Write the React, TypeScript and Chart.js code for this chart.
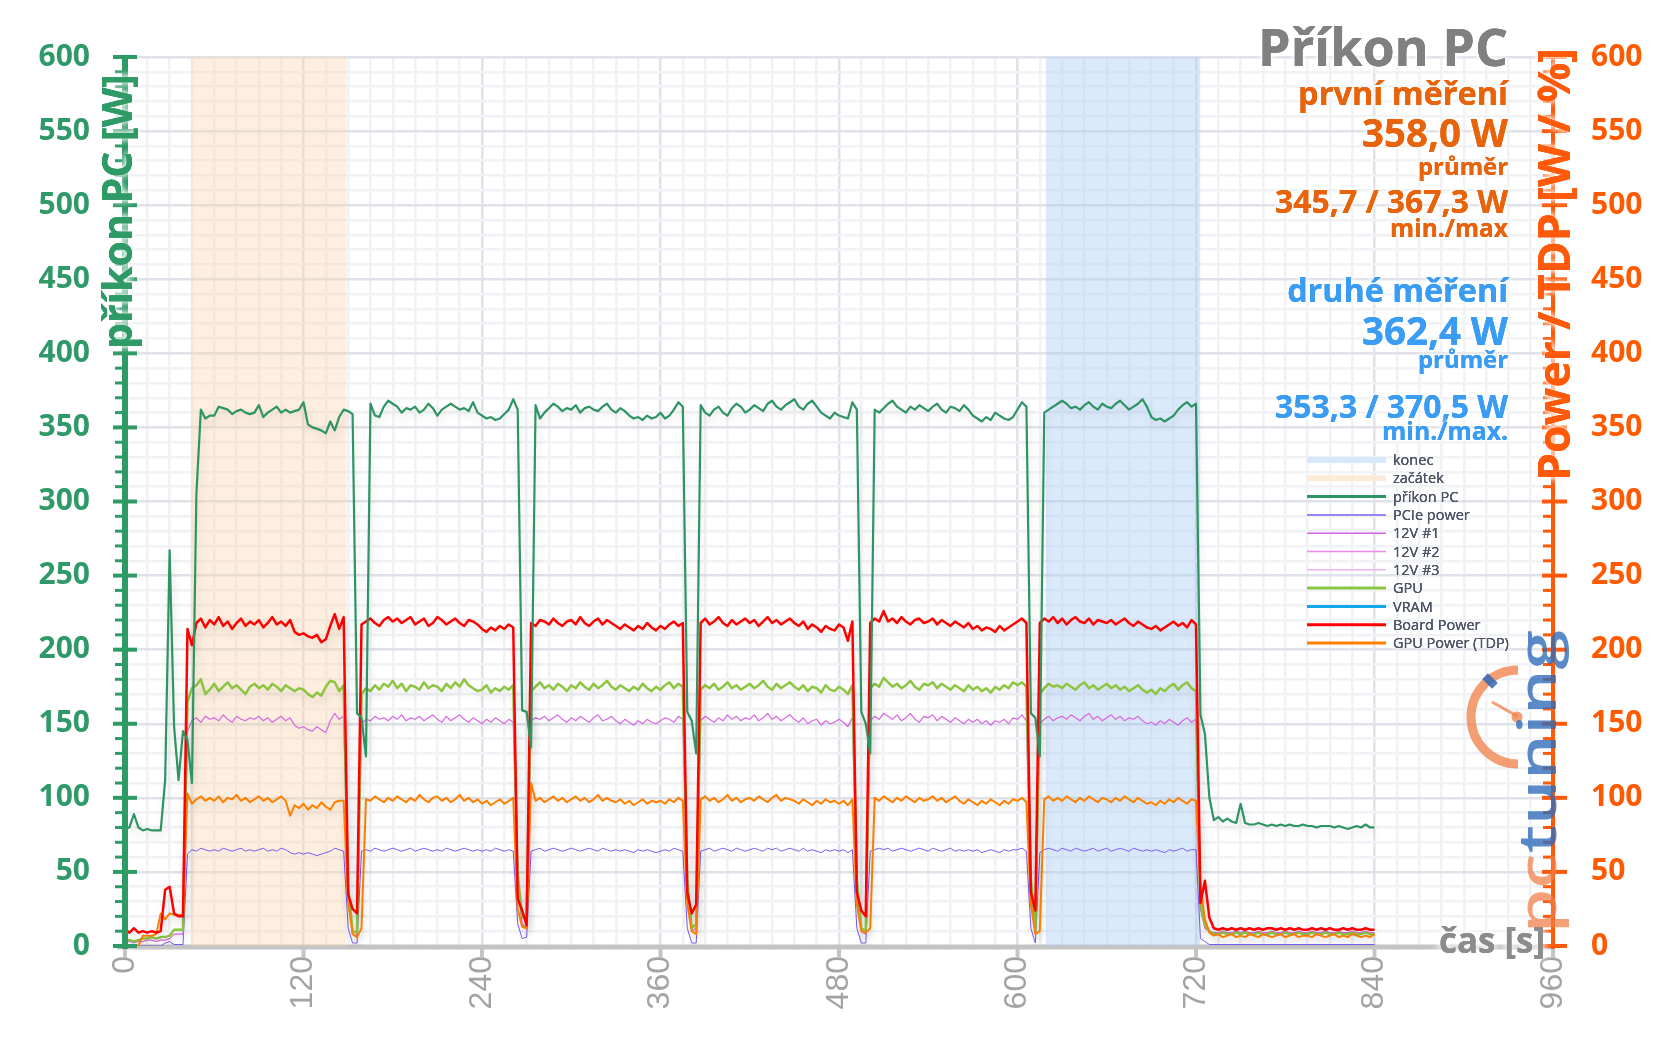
import React, { useEffect, useRef } from "react";
import { Chart, registerables } from "chart.js";

Chart.register(...registerables);

// sampling interval of the log (seconds)
const SAMPLE_STEP_S = 3;

// příkon PC [W]
const pcPower = [
  79, 80, 89, 80, 78, 79, 78, 78, 78, 112,
  267, 148, 112, 145, 139, 110, 305, 362, 356, 358,
  358, 364, 363, 362, 359, 361, 362, 360, 359, 360,
  365, 357, 360, 362, 364, 360, 362, 360, 361, 362,
  367, 352, 350, 349, 348, 346, 354, 348, 357, 362,
  361, 359, 157, 154, 128, 366, 358, 357, 364, 368,
  366, 364, 360, 363, 362, 364, 360, 362, 366, 363,
  358, 362, 364, 366, 364, 362, 363, 361, 367, 360,
  358, 356, 357, 355, 356, 359, 362, 369, 362, 159,
  158, 134, 365, 356, 360, 363, 366, 364, 361, 363,
  362, 365, 360, 363, 364, 362, 361, 364, 366, 362,
  360, 363, 361, 358, 356, 357, 355, 358, 356, 357,
  360, 356, 358, 362, 367, 364, 158, 152, 130, 365,
  360, 358, 362, 364, 360, 358, 363, 366, 364, 360,
  362, 365, 363, 361, 366, 368, 364, 362, 365, 367,
  369, 364, 362, 366, 368, 364, 360, 358, 356, 360,
  358, 357, 356, 367, 362, 158, 150, 130, 362, 360,
  363, 366, 368, 364, 362, 360, 364, 362, 365, 363,
  361, 364, 366, 362, 360, 364, 363, 361, 365, 362,
  358, 356, 354, 357, 355, 360, 358, 356, 355, 357,
  362, 367, 364, 157, 154, 128, 360, 362, 364, 366,
  368, 366, 363, 364, 362, 365, 367, 364, 362, 366,
  364, 363, 366, 368, 365, 362, 364, 366, 369, 364,
  357, 355, 356, 354, 356, 358, 362, 365, 367, 364,
  366, 156, 143, 100, 85, 87, 84, 86, 84, 83,
  96, 83, 82, 82, 83, 82, 81, 82, 81, 82,
  81, 82, 81, 81, 82, 81, 81, 80, 81, 81,
  81, 80, 81, 80, 79, 80, 81, 80, 82, 80,
  80,
];

// PCIe power [W]
const pciePower = [
  0, 0, 0, 0, 0, 0, 0, 0, 0, 2,
  3, 1, 1, 1, 62, 65, 64, 66, 65, 64,
  65, 64, 66, 65, 64, 65, 66, 64, 65, 64,
  65, 66, 64, 65, 64, 66, 65, 63, 62, 63,
  62, 63, 62, 61, 62, 63, 64, 66, 65, 64,
  12, 2, 2, 64, 65, 64, 66, 65, 64, 65,
  66, 65, 64, 65, 66, 64, 65, 66, 65, 64,
  65, 64, 66, 65, 64, 65, 66, 65, 64, 65,
  64, 65, 64, 66, 65, 64, 65, 64, 15, 5,
  6, 64, 65, 66, 64, 65, 66, 65, 64, 65,
  66, 65, 64, 65, 66, 65, 64, 66, 65, 64,
  65, 64, 65, 64, 63, 65, 64, 65, 64, 63,
  64, 65, 64, 66, 65, 64, 12, 2, 2, 64,
  65, 66, 64, 65, 66, 65, 64, 66, 65, 64,
  65, 66, 65, 64, 66, 65, 66, 64, 65, 66,
  65, 64, 66, 64, 65, 64, 63, 65, 64, 65,
  64, 65, 63, 65, 12, 2, 2, 64, 65, 66,
  65, 66, 64, 65, 66, 65, 64, 65, 66, 65,
  64, 66, 65, 64, 65, 66, 64, 65, 64, 65,
  64, 65, 63, 64, 65, 64, 63, 65, 64, 65,
  65, 66, 64, 12, 2, 63, 65, 66, 65, 64,
  66, 65, 64, 66, 65, 64, 65, 66, 64, 65,
  66, 64, 65, 66, 65, 64, 66, 65, 64, 65,
  64, 65, 64, 63, 65, 64, 65, 66, 64, 65,
  65, 5, 3, 1, 1, 1, 1, 1, 1, 1,
  1, 1, 1, 1, 1, 1, 1, 1, 1, 1,
  1, 1, 1, 1, 1, 1, 1, 1, 1, 1,
  1, 1, 1, 1, 1, 1, 1, 1, 1, 1,
  1,
];

// 12V #1 [W]
const rail12v1 = [
  3, 3, 2, 3, 3, 4, 4, 3, 4, 4,
  5, 8, 8, 8, 145, 152, 154, 151, 155, 153,
  154, 152, 156, 153, 151, 155, 153, 152, 154, 153,
  155, 152, 154, 151, 153, 155, 152, 154, 149, 147,
  148, 146, 145, 148, 146, 144, 152, 157, 153, 155,
  35, 8, 7, 150, 153, 152, 155, 153, 154, 152,
  155, 153, 156, 152, 154, 153, 155, 152, 154, 156,
  153, 151, 155, 152, 154, 156, 153, 151, 154, 152,
  150, 153, 151, 154, 152, 150, 153, 151, 40, 15,
  12, 152, 154, 153, 155, 152, 154, 156, 153, 151,
  154, 152, 155, 153, 151, 154, 156, 152, 153, 155,
  152, 150, 153, 151, 149, 152, 150, 153, 151, 150,
  152, 154, 153, 151, 155, 153, 40, 10, 12, 152,
  155, 153, 151, 154, 152, 156, 153, 155, 152, 154,
  153, 156, 152, 154, 157, 153, 155, 152, 154, 156,
  153, 151, 154, 150, 152, 153, 149, 152, 150, 151,
  153, 151, 148, 154, 40, 10, 8, 152, 155, 153,
  157, 155, 153, 156, 152, 154, 157, 153, 151, 155,
  154, 156, 152, 155, 153, 151, 154, 152, 150, 153,
  151, 153, 150, 152, 149, 152, 151, 153, 150, 154,
  153, 156, 152, 40, 8, 150, 153, 155, 152, 154,
  155, 153, 156, 154, 152, 155, 157, 153, 155, 152,
  154, 156, 153, 155, 152, 154, 153, 155, 152, 150,
  151, 149, 152, 150, 153, 151, 149, 152, 154, 151,
  153, 25, 12, 10, 9, 9, 10, 9, 9, 10,
  9, 10, 9, 9, 10, 9, 9, 10, 9, 9,
  10, 9, 9, 10, 9, 9, 10, 9, 9, 10,
  9, 9, 10, 9, 9, 10, 9, 9, 10, 9,
  9,
];

// 12V #2, 12V #3 and VRAM carry no visible trace in the chart
const rail12v2: number[] = [];
const rail12v3: number[] = [];
const vramPower: number[] = [];

// GPU core [W]
const gpuCore = [
  4, 4, 3, 4, 5, 5, 6, 5, 6, 6,
  7, 11, 11, 11, 165, 174, 176, 180, 170, 173,
  177, 172, 175, 178, 174, 176, 173, 170, 175, 177,
  174, 176, 173, 177, 175, 172, 176, 174, 172, 174,
  173, 170, 168, 171, 169, 175, 179, 178, 172, 176,
  40, 10, 9, 170, 174, 172, 176, 173, 177, 175,
  179, 174, 177, 172, 176, 175, 173, 178, 174, 176,
  175, 172, 177, 174, 178, 175, 180, 176, 174, 172,
  173, 176, 171, 174, 172, 175, 173, 176, 48, 20,
  18, 172, 175, 178, 174, 176, 173, 177, 175, 172,
  176, 174, 178, 175, 173, 177, 174, 176, 179, 175,
  173, 176, 174, 172, 175, 173, 177, 174, 172, 175,
  173, 176, 178, 174, 177, 175, 45, 12, 15, 173,
  176, 174, 177, 173, 175, 178, 174, 176, 173, 175,
  177, 174, 176, 179, 175, 173, 177, 174, 176, 178,
  175, 173, 176, 172, 175, 174, 171, 176, 173, 172,
  175, 173, 170, 176, 45, 12, 10, 174, 177, 175,
  181, 178, 175, 177, 174, 176, 179, 175, 173, 177,
  176, 178, 174, 177, 175, 173, 176, 174, 172, 176,
  173, 175, 172, 174, 171, 175, 173, 176, 174, 178,
  176, 178, 175, 45, 10, 170, 174, 177, 175, 176,
  174, 177, 175, 173, 176, 178, 174, 176, 173, 175,
  177, 174, 176, 173, 175, 172, 174, 176, 173, 171,
  173, 170, 174, 172, 175, 177, 173, 176, 178, 174,
  172, 28, 14, 10, 8, 8, 9, 8, 8, 9,
  8, 9, 8, 8, 9, 8, 8, 9, 8, 8,
  9, 8, 8, 9, 8, 8, 9, 8, 8, 9,
  8, 8, 9, 8, 8, 9, 8, 8, 9, 8,
  8,
];

// Board Power [W]
const boardPower = [
  11, 9, 12, 9, 10, 9, 10, 9, 10, 38,
  40, 22, 20, 20, 214, 203, 218, 221, 215, 220,
  217, 222, 216, 219, 214, 218, 221, 216, 219, 217,
  220, 215, 218, 222, 217, 219, 216, 220, 212, 210,
  211, 209, 208, 210, 205, 207, 216, 224, 214, 222,
  35, 25, 22, 217, 219, 221, 218, 216, 220, 222,
  219, 221, 218, 220, 222, 217, 219, 221, 216, 218,
  222, 220, 217, 219, 221, 218, 216, 220, 219, 217,
  214, 212, 215, 213, 216, 214, 217, 215, 32, 24,
  14, 218, 216, 220, 219, 217, 221, 218, 216, 219,
  220, 217, 222, 218, 216, 219, 221, 217, 220, 218,
  216, 214, 217, 215, 213, 216, 214, 218, 215, 213,
  216, 214, 217, 219, 216, 218, 36, 22, 28, 218,
  221, 217, 219, 222, 218, 216, 220, 217, 219, 221,
  218, 220, 216, 219, 222, 218, 220, 217, 219, 221,
  218, 216, 219, 214, 217, 215, 212, 216, 214, 213,
  217, 215, 206, 219, 36, 24, 20, 218, 221, 219,
  226, 219, 221, 218, 222, 219, 217, 220, 221, 218,
  219, 221, 217, 220, 218, 216, 219, 217, 215, 218,
  214, 216, 213, 215, 214, 212, 216, 213, 215, 217,
  219, 221, 218, 36, 24, 218, 221, 219, 222, 218,
  221, 217, 220, 222, 219, 218, 221, 217, 220, 219,
  218, 220, 217, 219, 221, 218, 216, 219, 217, 215,
  214, 216, 213, 215, 217, 219, 216, 218, 215, 220,
  217, 29, 44, 19, 12, 11, 12, 11, 12, 11,
  12, 11, 12, 11, 12, 11, 12, 12, 11, 12,
  11, 12, 11, 12, 11, 11, 12, 11, 12, 11,
  12, 11, 11, 12, 11, 12, 11, 11, 12, 11,
  11,
];

// GPU Power (TDP) [W]
const tdpPower = [
  0, 0, 0, 0, 7, 7, 7, 8, 22, 18,
  22, 21, 21, 21, 103, 96, 99, 101, 98, 100,
  98, 101, 97, 100, 99, 102, 98, 100, 97, 99,
  101, 98, 100, 97, 99, 101, 98, 88, 95, 93,
  96, 92, 95, 93, 97, 94, 92, 97, 98, 98,
  30, 8, 6, 12, 99, 98, 101, 99, 97, 100,
  98, 101, 99, 97, 100, 98, 102, 99, 97, 100,
  101, 98, 100, 97, 99, 102, 98, 100, 97, 99,
  96, 98, 95, 97, 99, 96, 98, 100, 25, 13,
  12, 110, 98, 100, 97, 99, 101, 98, 100, 97,
  99, 101, 98, 100, 97, 99, 102, 98, 100, 98,
  97, 99, 96, 98, 95, 97, 99, 96, 98, 97,
  98, 96, 99, 97, 100, 98, 28, 10, 8, 99,
  101, 98, 100, 97, 99, 102, 98, 100, 97, 99,
  100, 98, 101, 99, 97, 100, 102, 98, 100, 99,
  98, 96, 99, 97, 95, 98, 96, 99, 97, 98,
  96, 98, 95, 99, 28, 10, 9, 12, 100, 98,
  101, 99, 97, 100, 98, 101, 99, 97, 100, 98,
  99, 101, 98, 100, 97, 99, 101, 98, 96, 99,
  97, 95, 98, 96, 99, 97, 95, 98, 96, 99,
  98, 100, 97, 28, 8, 10, 99, 101, 98, 100,
  98, 101, 99, 97, 100, 98, 101, 99, 97, 100,
  99, 97, 100, 98, 101, 99, 97, 100, 98, 96,
  97, 95, 98, 96, 99, 97, 100, 98, 96, 99,
  98, 40, 18, 9, 7, 8, 6, 7, 8, 6,
  7, 6, 8, 7, 6, 8, 7, 6, 7, 8,
  6, 7, 8, 6, 7, 7, 6, 8, 7, 6,
  7, 8, 6, 7, 6, 8, 7, 6, 7, 6,
  8,
];

const times = pcPower.map((_, i) => i * SAMPLE_STEP_S);

// measurement windows [s]
const startWindow = [44, 149]; // začátek
const endWindow = [619, 723]; // konec

// axes
const X_MAX = 960;
const X_MINOR_STEP = 15;
const X_LABEL_STEP = 120;
const Y_MAX = 600;
const Y_MINOR_STEP = 10;
const Y_LABEL_STEP = 50;

const titleText = "Příkon PC";
const firstRun = ["první měření", "358,0 W", "průměr", "345,7 / 367,3 W", "min./max"];
const secondRun = ["druhé měření", "362,4 W", "průměr", "353,3 / 370,5 W", "min./max."];

const GREEN_TEXT = "#2f9968";
const GREEN_AXIS = "#2e9a66";
const ORANGE_AXIS = "#ff5a0a";
const ORANGE_TEXT = "#e8640c";
const BLUE_TEXT = "#3a9cf2";

const series = (arr: number[]) => arr.map((v, i) => ({ x: times[i], y: v }));

function fitSize(ctx: CanvasRenderingContext2D, text: string, weight: string, family: string, target: number) {
  ctx.font = `${weight} 100px ${family}`;
  const w = ctx.measureText(text).width;
  return (100 * target) / w;
}

function haloText(ctx: CanvasRenderingContext2D, text: string, x: number, y: number, blur = 6) {
  ctx.save();
  ctx.shadowColor = "rgba(255,255,255,1)";
  ctx.shadowBlur = blur;
  ctx.fillText(text, x, y);
  ctx.fillText(text, x, y);
  ctx.restore();
  ctx.fillText(text, x, y);
}

function clearShadow(ctx: CanvasRenderingContext2D) {
  ctx.shadowColor = "rgba(0,0,0,0)";
  ctx.shadowBlur = 0;
  ctx.shadowOffsetX = 0;
  ctx.shadowOffsetY = 0;
}

const decorPlugin = {
  id: "decor",
  beforeDatasetsDraw(chart: any) {
    const { ctx, chartArea: a, scales } = chart;
    const xs = scales.x;
    ctx.save();
    ctx.strokeStyle = "#c4c4c4";
    ctx.lineWidth = 5;
    ctx.beginPath();
    ctx.moveTo(a.left - 8, a.bottom + 1);
    ctx.lineTo(a.right, a.bottom + 1);
    ctx.stroke();
    ctx.lineWidth = 4;
    xs.ticks.forEach((t: any) => {
      if (t.value % X_LABEL_STEP !== 0) return;
      const px = xs.getPixelForValue(t.value);
      ctx.beginPath();
      ctx.moveTo(px, a.bottom);
      ctx.lineTo(px, a.bottom + 12);
      ctx.stroke();
    });
    ctx.restore();
  },
  beforeDatasetDraw(chart: any, args: any) {
    const ctx = chart.ctx;
    if (args.index >= 2) {
      ctx.shadowColor = "rgba(0,0,0,0.13)";
      ctx.shadowBlur = 9;
      ctx.shadowOffsetX = 2;
      ctx.shadowOffsetY = 5;
    } else {
      clearShadow(ctx);
    }
  },
  afterDatasetDraw(chart: any) {
    clearShadow(chart.ctx);
  },
  afterDatasetsDraw(chart: any) {
    const { ctx, chartArea: a, scales } = chart;
    clearShadow(ctx);
    ctx.save();
    const ys = scales.y;
    const ys2 = scales.y2;
    // left axis
    ctx.strokeStyle = GREEN_AXIS;
    ctx.lineWidth = 6;
    ctx.beginPath();
    ctx.moveTo(a.left, a.top - 2);
    ctx.lineTo(a.left, a.bottom + 3);
    ctx.stroke();
    ys.ticks.forEach((t: any) => {
      const py = ys.getPixelForValue(t.value);
      ctx.beginPath();
      if (t.value % Y_LABEL_STEP === 0) {
        ctx.lineWidth = 4;
        ctx.moveTo(a.left - 12, py);
        ctx.lineTo(a.left + 12, py);
      } else {
        ctx.lineWidth = 3;
        ctx.moveTo(a.left - 10, py);
        ctx.lineTo(a.left, py);
      }
      ctx.stroke();
    });
    // right axis
    ctx.strokeStyle = ORANGE_AXIS;
    ctx.lineWidth = 4;
    ctx.beginPath();
    ctx.moveTo(a.right, a.top - 2);
    ctx.lineTo(a.right, a.bottom + 3);
    ctx.stroke();
    ys2.ticks.forEach((t: any) => {
      const py = ys2.getPixelForValue(t.value);
      ctx.beginPath();
      if (t.value % Y_LABEL_STEP === 0) {
        ctx.lineWidth = 4;
        ctx.moveTo(a.right - 11, py);
        ctx.lineTo(a.right + 14, py);
      } else {
        ctx.lineWidth = 3;
        ctx.moveTo(a.right - 10, py);
        ctx.lineTo(a.right, py);
      }
      ctx.stroke();
    });

    // axis titles
    const fam = '"Open Sans"';
    ctx.textAlign = "left";
    ctx.textBaseline = "alphabetic";
    {
      const t = "příkon PC [W]";
      const s = fitSize(ctx, t, "bold", fam, 275);
      ctx.save();
      ctx.translate(a.left + 7, 349);
      ctx.rotate(-Math.PI / 2);
      ctx.font = `bold ${s}px ${fam}`;
      ctx.fillStyle = GREEN_AXIS;
      haloText(ctx, t, 0, 0, 7);
      ctx.restore();
    }
    {
      const t = "Power / TDP [W / %]";
      const s = fitSize(ctx, t, "bold", fam, 433);
      ctx.save();
      ctx.translate(a.right + 17, 481);
      ctx.rotate(-Math.PI / 2);
      ctx.font = `bold ${s}px ${fam}`;
      ctx.fillStyle = ORANGE_AXIS;
      haloText(ctx, t, 0, 0, 7);
      ctx.restore();
    }
    // x axis title
    {
      const t = "čas [s]";
      const s = fitSize(ctx, t, "bold", fam, 106);
      ctx.font = `bold ${s}px ${fam}`;
      ctx.fillStyle = "#8c8c8c";
      ctx.textAlign = "right";
      haloText(ctx, t, 1545, 953, 8);
    }

    // annotation block
    const RX = 1508;
    ctx.textAlign = "right";
    const rows: [string, number, number, string][] = [
      [titleText, 250, 66, "#808080"],
      [firstRun[0], 210, 105, ORANGE_TEXT],
      [firstRun[1], 146, 147, ORANGE_TEXT],
      [firstRun[2], 90, 175, ORANGE_TEXT],
      [firstRun[3], 233, 213, ORANGE_TEXT],
      [firstRun[4], 118, 237, ORANGE_TEXT],
      [secondRun[0], 221, 302, BLUE_TEXT],
      [secondRun[1], 146, 345, BLUE_TEXT],
      [secondRun[2], 90, 368, BLUE_TEXT],
      [secondRun[3], 233, 418, BLUE_TEXT],
      [secondRun[4], 126, 440, BLUE_TEXT],
    ];
    rows.forEach(([t, w, by, col]) => {
      const s = fitSize(ctx, t, "bold", fam, w);
      ctx.font = `bold ${s}px ${fam}`;
      ctx.fillStyle = col;
      haloText(ctx, t, RX, by, 6);
    });

    // legend
    const items = [
      { label: "konec", color: "rgba(215,232,252,1)", w: 6 },
      { label: "začátek", color: "rgba(253,234,216,1)", w: 6 },
    ];
    chart.data.datasets.slice(2).forEach((d: any) => items.push({ label: d.label, color: d.borderColor, w: d.legendWidth }));
    ctx.textAlign = "left";
    ctx.textBaseline = "middle";
    ctx.font = `14.5px ${fam}`;
    items.forEach((it, i) => {
      const y = 460 + i * 18.3;
      ctx.strokeStyle = it.color;
      ctx.lineWidth = it.w;
      ctx.beginPath();
      ctx.moveTo(1307, y);
      ctx.lineTo(1386, y);
      ctx.stroke();
      ctx.fillStyle = "#4d5566";
      haloText(ctx, it.label, 1393, y + 1, 4);
    });

    // pctuning logo
    ctx.save();
    ctx.strokeStyle = "rgba(240,125,70,0.75)";
    ctx.fillStyle = "rgba(240,125,70,0.75)";
    ctx.lineWidth = 9;
    ctx.beginPath();
    ctx.arc(1518, 717, 47, -Math.PI / 2, Math.PI / 2, true);
    ctx.stroke();
    ctx.lineWidth = 3;
    ctx.beginPath();
    ctx.moveTo(1492, 702);
    ctx.lineTo(1517, 716);
    ctx.stroke();
    ctx.beginPath();
    ctx.arc(1517, 717, 5.5, 0, Math.PI * 2);
    ctx.fill();
    ctx.save();
    ctx.translate(1490, 681);
    ctx.rotate(-Math.PI / 4);
    ctx.fillStyle = "rgba(45,105,185,0.85)";
    ctx.fillRect(-4, -7, 8, 14);
    ctx.restore();
    ctx.translate(1556, 933);
    ctx.rotate(-Math.PI / 2);
    ctx.font = `600 52px ${fam}`;
    ctx.textAlign = "left";
    ctx.textBaseline = "alphabetic";
    const wPc = ctx.measureText("pc").width;
    const wAll = ctx.measureText("pctuning").width;
    ctx.scale(303 / wAll, 1);
    ctx.fillStyle = "rgba(240,125,70,0.72)";
    ctx.fillText("pc", 0, 0);
    ctx.fillStyle = "rgba(45,105,185,0.78)";
    ctx.fillText("tuning", wPc, 0);
    ctx.restore();

    ctx.restore();
  },
};

export default function App() {
  const ref = useRef<HTMLCanvasElement>(null);
  useEffect(() => {
    document.body.style.margin = "0";
    const canvas = ref.current;
    if (!canvas) return;
    const gridColor = (major: number, v: number) => (v % major === 0 ? "#dfe2e8" : "#f1f2f6");
    const chart = new Chart(canvas, {
      type: "line",
      data: {
        datasets: [
          {
            label: "konec",
            data: [{ x: endWindow[0], y: Y_MAX }, { x: endWindow[1], y: Y_MAX }],
            fill: "origin",
            backgroundColor: "rgba(170,205,245,0.42)",
            borderWidth: 0,
            borderColor: "rgba(0,0,0,0)",
            pointRadius: 0,
            order: 20,
          },
          {
            label: "začátek",
            data: [{ x: startWindow[0], y: Y_MAX }, { x: startWindow[1], y: Y_MAX }],
            fill: "origin",
            backgroundColor: "rgba(251,210,170,0.38)",
            borderWidth: 0,
            borderColor: "rgba(0,0,0,0)",
            pointRadius: 0,
            order: 21,
          },
          { label: "příkon PC", data: series(pcPower), borderColor: "#2e9463", borderWidth: 2.2, legendWidth: 3, order: 1 },
          { label: "PCIe power", data: series(pciePower), borderColor: "#7b5cf0", borderWidth: 1, legendWidth: 1.5, order: 6 },
          { label: "12V #1", data: series(rail12v1), borderColor: "#d666e2", borderWidth: 1.2, legendWidth: 1.5, order: 5 },
          { label: "12V #2", data: series(rail12v2), borderColor: "#ec88ec", borderWidth: 1, legendWidth: 1.5, order: 7 },
          { label: "12V #3", data: series(rail12v3), borderColor: "#f2b2f2", borderWidth: 1, legendWidth: 1.5, order: 8 },
          { label: "GPU", data: series(gpuCore), borderColor: "#8cc540", borderWidth: 2.5, legendWidth: 3, order: 4 },
          { label: "VRAM", data: series(vramPower), borderColor: "#12a6ea", borderWidth: 2.5, legendWidth: 3, order: 9 },
          { label: "Board Power", data: series(boardPower), borderColor: "#ff0000", borderWidth: 2.5, legendWidth: 3, order: 2 },
          { label: "GPU Power (TDP)", data: series(tdpPower), borderColor: "#ff8000", borderWidth: 2, legendWidth: 3, order: 3 },
        ] as any,
      },
      options: {
        responsive: false,
        animation: false,
        layout: { padding: { top: 57, right: 0, bottom: 0, left: 0 } },
        plugins: { legend: { display: false }, tooltip: { enabled: false } },
        elements: {
          point: { radius: 0 },
          line: { tension: 0, borderJoinStyle: "round", fill: false },
        },
        scales: {
          x: {
            type: "linear",
            min: 0,
            max: X_MAX,
            afterFit: (s: any) => {
              s.height = 98;
            },
            border: { display: false },
            grid: {
              drawTicks: false,
              color: (c: any) => gridColor(X_LABEL_STEP, c.tick ? c.tick.value : 1),
              lineWidth: 2.5,
            },
            ticks: {
              stepSize: X_MINOR_STEP,
              autoSkip: false,
              minRotation: 90,
              maxRotation: 90,
              padding: 10,
              color: "#a3a3a3",
              font: { family: '"Liberation Sans", Arial, sans-serif', size: 32 },
              callback: (v: any) => (Number(v) % X_LABEL_STEP === 0 ? String(v) : ""),
            },
          },
          y: {
            position: "left",
            min: 0,
            max: Y_MAX,
            afterFit: (s: any) => {
              s.width = 125;
            },
            border: { display: false },
            grid: {
              drawTicks: false,
              color: (c: any) => gridColor(Y_LABEL_STEP, c.tick ? c.tick.value : 1),
              lineWidth: 2.5,
            },
            ticks: {
              stepSize: Y_MINOR_STEP,
              autoSkip: false,
              padding: 35,
              color: GREEN_TEXT,
              font: { family: '"Open Sans"', weight: "bold", size: 30 },
              callback: (v: any) => (Number(v) % Y_LABEL_STEP === 0 ? String(v) : ""),
            },
          },
          y2: {
            position: "right",
            min: 0,
            max: Y_MAX,
            afterFit: (s: any) => {
              s.width = 104;
            },
            border: { display: false },
            grid: { drawOnChartArea: false, drawTicks: false },
            ticks: {
              stepSize: Y_MINOR_STEP,
              autoSkip: false,
              padding: 38,
              color: "#ff5a00",
              font: { family: '"Open Sans"', weight: "bold", size: 30 },
              callback: (v: any) => (Number(v) % Y_LABEL_STEP === 0 ? String(v) : ""),
            },
          },
        },
      } as any,
      plugins: [decorPlugin as any],
    });
    return () => chart.destroy();
  }, []);
  return (
    <div style={{ width: 1657, height: 1044, background: "#ffffff" }}>
      <canvas ref={ref} width={1657} height={1044} style={{ display: "block" }} />
    </div>
  );
}
